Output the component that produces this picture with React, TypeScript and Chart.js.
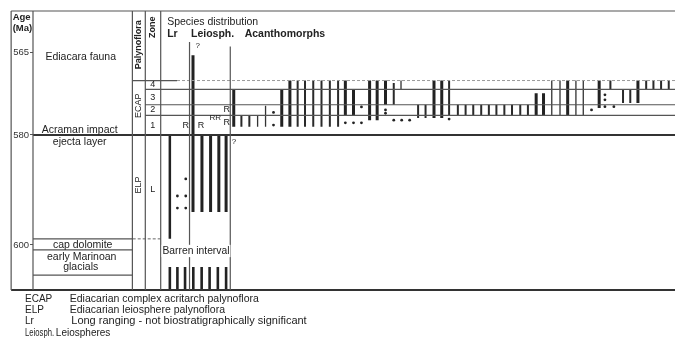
import React, { useEffect, useRef } from "react";
import { Chart, registerables } from "chart.js";

Chart.register(...registerables);

// ---------------- data (ages in Ma; x = horizontal slot in the figure) ----------------
const ageTicks = [565, 580, 600];
const ageTop = 557.45;
const ageBase = 608.2;

const ecapTopAge = 570.1;
const zoneBoundaryAges = [571.7, 574.5, 576.45];
const impactAge = 580;
const elpBaseAge = 598.9;
const eventLineAges = [598.9, 600.9, 605.5];
const zoneNames = ["4", "3", "2", "1"];
const zoneMidAges = [570.9, 573.1, 575.45, 578.2];

// Lr (long ranging) ranges: [x, top age, base age]
const lrRanges = [[170.7, 580, 598.9]];
// Leiosphere ranges
const leioRanges = [
  [194, 565.5, 594],
  [203, 580, 594],
  [211.7, 580, 594],
  [220, 580, 594],
  [227.3, 580, 594],
];
// ranges below the barren interval
const lowerRanges = [
  [170.7, 604, 608.2],
  [178.3, 604, 608.2],
  [186, 604, 608.2],
  [194.3, 604, 608.2],
  [202.7, 604, 608.2],
  [210.7, 604, 608.2],
  [219, 604, 608.2],
  [227.3, 604, 608.2],
];
const lrDots = [
  [186.7, 588],
  [178.3, 591.1],
  [186.7, 591.1],
  [178.3, 593.3],
  [186.7, 593.3],
];

// Acanthomorph ranges, grouped by stroke weight
const acanthThick = [
  [235, 571.8, 578.5],
  [283.3, 571.8, 578.5],
  [291.5, 570.1, 578.5],
  [347.3, 570.1, 576.4],
  [355.5, 571.8, 576.4],
  [371.7, 570.1, 577.3],
  [379.3, 570.1, 577.3],
  [387.7, 570.1, 574.5],
  [436.5, 570.1, 576.9],
  [444.3, 570.1, 576.9],
  [539.3, 572.4, 576.4],
  [546.7, 572.4, 576.4],
  [571, 570.1, 576.4],
  [602.7, 570.1, 575.1],
  [641.7, 570.1, 574.2],
];
const acanthMedium = [
  [242.7, 576.5, 578.5],
  [250.7, 576.5, 578.5],
  [299.3, 570.1, 578.5],
  [306.7, 570.1, 578.5],
  [315, 570.1, 578.5],
  [323.3, 570.1, 578.5],
  [331.7, 570.1, 578.5],
  [340, 570.1, 578.5],
  [396, 570.55, 574.5],
  [420.5, 574.5, 576.9],
  [428, 574.5, 576.9],
  [451.7, 570.1, 576.4],
  [460.5, 574.5, 576.4],
  [468.3, 574.5, 576.4],
  [476, 574.5, 576.4],
  [484, 574.5, 576.4],
  [491.7, 574.5, 576.4],
  [499.3, 574.5, 576.4],
  [507.3, 574.5, 576.4],
  [515, 574.5, 576.4],
  [523.3, 574.5, 576.4],
  [531, 574.5, 576.4],
  [614, 570.1, 571.8],
  [626.7, 571.8, 574.2],
  [634, 571.8, 574.2],
  [650, 570.1, 571.8],
  [657.3, 570.1, 571.8],
  [665, 570.1, 571.8],
  [672.7, 570.1, 571.8],
];
const acanthThin = [
  [259, 576.5, 578.5],
  [267, 574.7, 578.5],
  [403.3, 570.1, 571.8],
  [555, 570.1, 576.4],
  [563.3, 570.1, 576.4],
  [579.3, 570.1, 576.4],
  [586.7, 570.1, 576.4],
];
const acanthDots = [
  [275, 575.9],
  [275, 578.2],
  [347.3, 577.8],
  [355.5, 577.8],
  [363.5, 577.8],
  [363.5, 574.9],
  [387.7, 575.45],
  [387.7, 576.05],
  [396, 577.3],
  [404, 577.3],
  [412, 577.3],
  [451.7, 577.1],
  [595, 575.45],
  [608.5, 572.7],
  [608.5, 573.6],
  [608.5, 574.85],
  [617.5, 574.85],
];

// ---------------- layout ----------------
const W = 679;
const H = 345;
const FONT = '"Liberation Sans", Arial, Helvetica, sans-serif';
const INK = "#222";
const RULE = "#555";

// column dividers: [x, top age, base age]
const columnLines = [
  [11, ageTop, ageBase],
  [33, ageTop, ageBase],
  [133, ageTop, ageBase],
  [146, ageTop, ageBase],
  [161.5, ageTop, ageBase],
  [190.5, 563.1, ageBase],
  [231.5, 563.9, ageBase],
];

type Label = {
  t: string;
  x: number;
  a: number;
  size: number;
  bold?: boolean;
  align?: CanvasTextAlign;
  rot?: boolean;
  bg?: boolean;
  maxW?: number;
};

const labels: Label[] = [
  { t: "Age", x: 12.5, a: 558.6, size: 9.5, bold: true, align: "left" },
  { t: "(Ma)", x: 12.5, a: 560.7, size: 9.5, bold: true, align: "left" },
  { t: "Ediacara fauna", x: 81, a: 565.9, size: 10.5 },
  { t: "Acraman impact", x: 80, a: 579.1, size: 10.5 },
  { t: "ejecta layer", x: 80, a: 581.3, size: 10.5 },
  { t: "cap dolomite", x: 83, a: 600.0, size: 10.5 },
  { t: "early Marinoan", x: 82, a: 602.2, size: 10.5 },
  { t: "glacials", x: 81, a: 604.1, size: 10.5 },
  { t: "Palynoflora", x: 139.5, a: 563.6, size: 9, bold: true, rot: true },
  { t: "Zone", x: 153.5, a: 560.4, size: 9, bold: true, rot: true },
  { t: "ECAP", x: 139.5, a: 574.7, size: 9, rot: true },
  { t: "ELP", x: 139.5, a: 589.1, size: 9, rot: true },
  { t: "L", x: 153.5, a: 590, size: 9 },
  ...zoneNames.map((z, i) => ({ t: z, x: 153.5, a: zoneMidAges[i], size: 9 })),
  { t: "Species distribution", x: 168, a: 559.4, size: 10.5, align: "left" },
  { t: "Lr", x: 168, a: 561.7, size: 10.5, bold: true, align: "left" },
  { t: "Leiosph.", x: 192, a: 561.7, size: 10.5, bold: true, align: "left" },
  { t: "Acanthomorphs", x: 246, a: 561.7, size: 10.5, bold: true, align: "left" },
  { t: "?", x: 196.5, a: 563.8, size: 8, align: "left" },
  { t: "?", x: 233, a: 581.3, size: 8, align: "left" },
  { t: "Barren interval", x: 197, a: 601.1, size: 10.3, bg: true },
  { t: "R", x: 186.7, a: 578.2, size: 9 },
  { t: "R", x: 202, a: 578.2, size: 9 },
  { t: "RR", x: 216.5, a: 576.9, size: 8 },
  { t: "R", x: 228, a: 575.3, size: 9 },
  { t: "R", x: 228, a: 577.7, size: 9 },
  { t: "ECAP", x: 25, a: 609.8, size: 10, align: "left" },
  { t: "Ediacarian complex acritarch palynoflora", x: 70, a: 609.8, size: 10.5, align: "left" },
  { t: "ELP", x: 25, a: 611.8, size: 10, align: "left" },
  { t: "Ediacarian leiosphere palynoflora", x: 70, a: 611.8, size: 10.5, align: "left" },
  { t: "Lr", x: 25, a: 613.8, size: 10, align: "left" },
  { t: "Long ranging - not biostratigraphically significant", x: 71.5, a: 613.8, size: 11, align: "left" },
  { t: "Leiosph.", x: 25, a: 616.0, size: 10, align: "left", maxW: 29 },
  { t: "Leiospheres", x: 56, a: 616.0, size: 10, align: "left" },
];

// ---------------- helpers ----------------
const vData = (ranges: number[][]) => {
  const d: any[] = [];
  ranges.forEach(([x, a1, a2]) => {
    d.push({ x, y: a1 }, { x, y: a2 }, { x, y: null });
  });
  return d;
};
const hData = (lines: number[][]) => {
  const d: any[] = [];
  lines.forEach(([a, x1, x2]) => {
    d.push({ x: x2, y: a }, { x: x1, y: a }, { x: x1, y: null });
  });
  return d;
};

const lineSet = (label: string, data: any[], color: string, width: number, dash: number[] = []) => ({
  label,
  data,
  borderColor: color,
  borderWidth: width,
  borderDash: dash,
  borderCapStyle: "butt",
  pointRadius: 0,
  pointHoverRadius: 0,
  fill: false,
  tension: 0,
  spanGaps: false,
  clip: false,
});

const textPlugin = {
  id: "figureText",
  afterDraw(chart: any) {
    const { ctx } = chart;
    const xs = chart.scales.x;
    const ys = chart.scales.y;
    ctx.save();
    labels.forEach((l) => {
      const px = xs.getPixelForValue(l.x);
      const py = ys.getPixelForValue(l.a);
      ctx.font = `${l.bold ? "bold " : ""}${l.size}px ${FONT}`;
      ctx.textAlign = l.align || "center";
      ctx.textBaseline = "middle";
      if (l.bg) {
        const w = ctx.measureText(l.t).width;
        ctx.fillStyle = "#fff";
        ctx.fillRect(px - w / 2 - 1, py - l.size / 2 - 1, w + 2, l.size + 2);
      }
      ctx.fillStyle = INK;
      if (l.rot) {
        ctx.save();
        ctx.translate(px, py);
        ctx.rotate(-Math.PI / 2);
        ctx.fillText(l.t, 0, 0);
        ctx.restore();
      } else if (l.maxW) {
        ctx.fillText(l.t, px, py, l.maxW);
      } else {
        ctx.fillText(l.t, px, py);
      }
    });
    ctx.restore();
  },
};

export default function App() {
  const ref = useRef<HTMLCanvasElement | null>(null);

  useEffect(() => {
    if (!ref.current) return;

    const frameThin = [
      ...vData(columnLines),
      ...hData([
        [ageTop, 11, W],
        [ecapTopAge, 133, 178],
        ...zoneBoundaryAges.map((a) => [a, 146, W]),
        ...eventLineAges.map((a) => [a, 33, 133]),
      ]),
    ];
    const frameThick = hData([
      [impactAge, 33, W],
      [ageBase, 11, W],
    ]);

    const chart = new Chart(ref.current, {
      type: "line",
      data: {
        datasets: [
          lineSet("frame", frameThin, RULE, 1.2) as any,
          lineSet("frame-thick", frameThick, "#333", 2) as any,
          lineSet("ECAP top", hData([[ecapTopAge, 178, W]]), "#999", 1, [3, 2]) as any,
          lineSet("ELP base", hData([[elpBaseAge, 133, 161.5]]), "#666", 1, [3, 2]) as any,
          lineSet("Lr", vData(lrRanges), INK, 2.5) as any,
          lineSet("Leiospheres", vData(leioRanges), INK, 3) as any,
          lineSet("Lower", vData(lowerRanges), INK, 2.6) as any,
          lineSet("Acanthomorphs thick", vData(acanthThick), INK, 3) as any,
          lineSet("Acanthomorphs", vData(acanthMedium), "#2a2a2a", 2) as any,
          lineSet("Acanthomorphs thin", vData(acanthThin), "#333", 1.3) as any,
          {
            label: "occurrences",
            data: [...lrDots, ...acanthDots].map(([x, y]) => ({ x, y })),
            showLine: false,
            pointRadius: 1.4,
            pointBackgroundColor: INK,
            pointBorderWidth: 0,
            clip: false,
          } as any,
        ],
      },
      options: {
        responsive: false,
        animation: false,
        events: [],
        layout: { padding: { left: 11, top: 11, right: 0, bottom: H - 290 } },
        plugins: {
          legend: { display: false },
          tooltip: { enabled: false },
        },
        scales: {
          x: { type: "linear", min: 33, max: W, display: false },
          y: {
            type: "linear",
            reverse: true,
            min: ageTop,
            max: ageBase,
            position: "left",
            afterBuildTicks: (axis: any) => {
              axis.ticks = ageTicks.map((v) => ({ value: v }));
            },
            afterFit: (axis: any) => {
              axis.width = 22;
            },
            ticks: {
              autoSkip: false,
              padding: 1,
              color: "#333",
              font: { family: FONT, size: 9.5 },
            },
            grid: { display: true, drawOnChartArea: false, drawTicks: true, tickLength: 3, color: RULE },
            border: { display: false },
          },
        },
      },
      plugins: [textPlugin as any],
    });

    return () => chart.destroy();
  }, []);

  return (
    <div style={{ position: "fixed", left: 0, top: 0, width: W, height: H, background: "#fff" }}>
      <canvas ref={ref} width={W} height={H} style={{ display: "block", width: W, height: H }} />
    </div>
  );
}
